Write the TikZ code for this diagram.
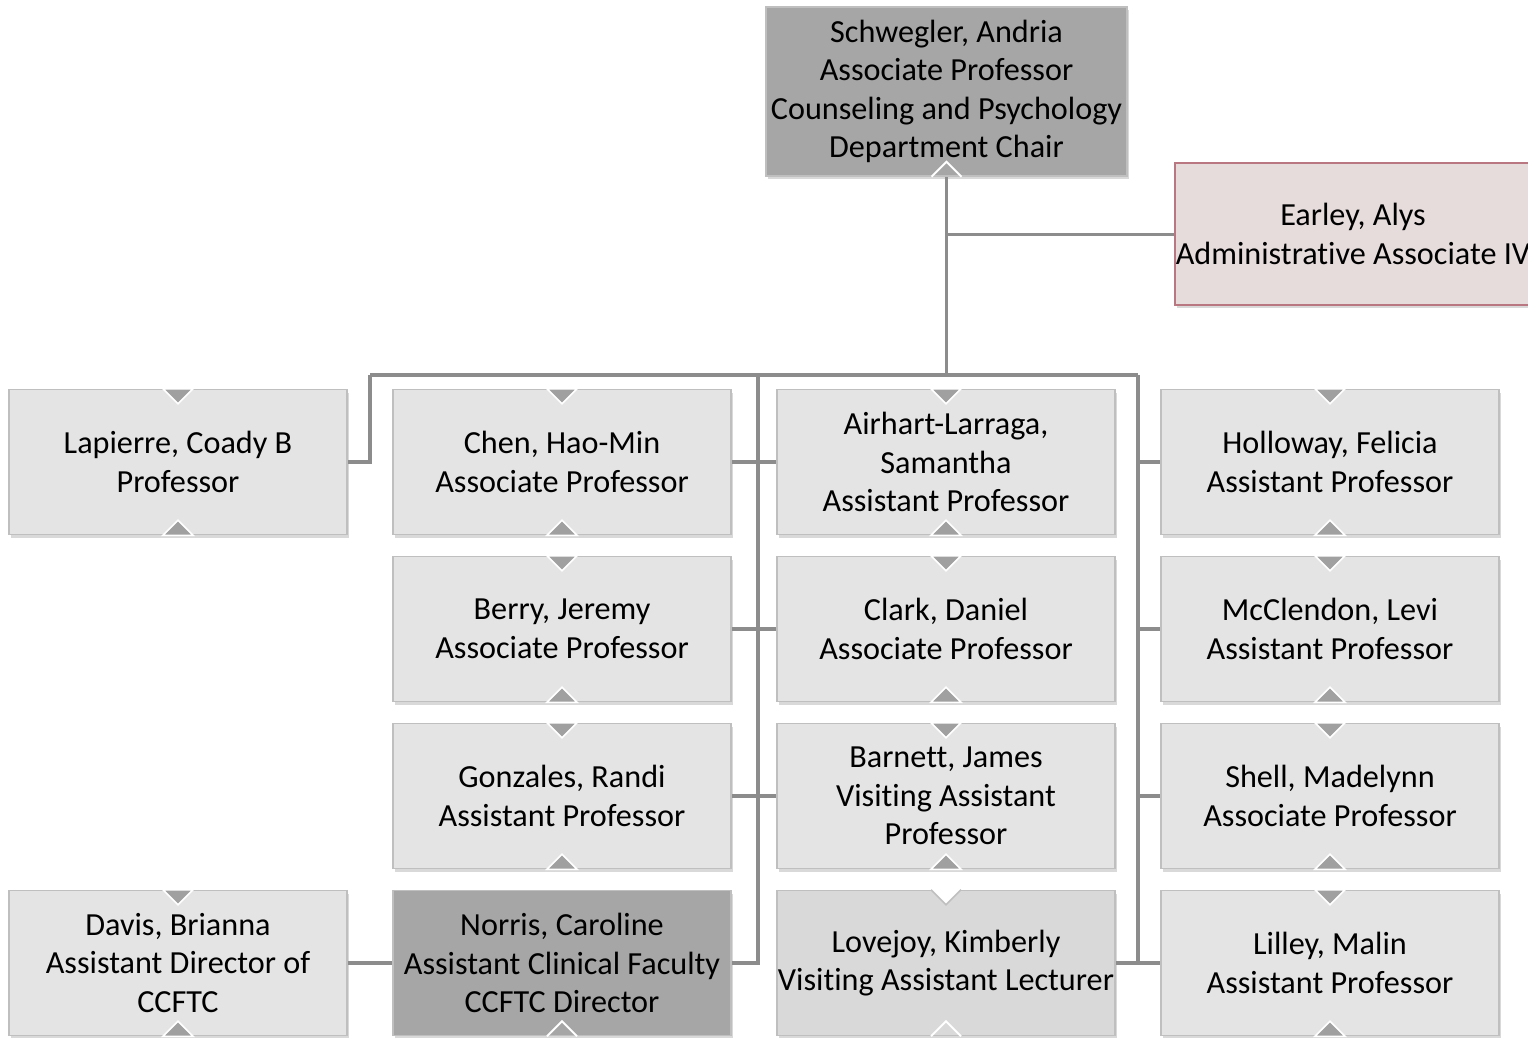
\documentclass[tikz,border=0pt]{standalone}
\usepackage{fontspec}
\setmainfont{Carlito}[Ligatures=NoCommon]
\usetikzlibrary{positioning, shadows}

\definecolor{boxfill}{HTML}{E4E4E4}
\definecolor{boxline}{HTML}{BFBFBF}
\definecolor{darkfill}{HTML}{A6A6A6}
\definecolor{midfill}{HTML}{D9D9D9}
\definecolor{adminfill}{HTML}{E6DCDC}
\definecolor{adminline}{HTML}{B97782}
\definecolor{linkgray}{HTML}{8C8C8C}
\definecolor{notchgray}{HTML}{A0A0A0}

\tikzset{
  person/.style={rectangle, draw=boxline, line width=1.5pt, fill=boxfill,
    minimum width=338pt, minimum height=145pt, inner sep=0pt, align=center,
    text=black, font=\fontsize{32.2}{38.5}\selectfont,
    drop shadow={shadow xshift=2pt, shadow yshift=-3pt, fill=black, opacity=0.15}},
  head/.style={person, fill=darkfill},
  link/.style={draw=linkgray, line width=3.5pt},
  notch/.style={fill=notchgray, draw=white, line width=1.5pt}
}

\begin{document}
\begin{tikzpicture}[x=1pt, y=-1pt, node distance=167pt and 384pt, on grid]
  \clip (0,0) rectangle (1528,1038);

  % chair and assistant
  \node[head, minimum width=361pt, minimum height=169pt](chair) at (946.5,91.5)
    {Schwegler, Andria\\Associate Professor\\Counseling and Psychology\\Department Chair};
  \node[person, fill=adminfill, draw=adminline, minimum width=356pt, minimum height=142pt](earley) at (1353,234)
    {Earley, Alys\\Administrative Associate IV};

  % faculty
  \node[person](chen) at (562,462) {Chen, Hao-Min\\Associate Professor};
  \node[person](lapierre)[left=of chen] {Lapierre, Coady B\\Professor};
  \node[person](airhart)[right=of chen] {Airhart-Larraga,\\Samantha\\Assistant Professor};
  \node[person](holloway)[right=of airhart] {Holloway, Felicia\\Assistant Professor};
  \node[person](berry)[below=of chen] {Berry, Jeremy\\Associate Professor};
  \node[person](clark)[below=of airhart] {Clark, Daniel\\Associate Professor};
  \node[person](mcclendon)[below=of holloway] {McClendon, Levi\\Assistant Professor};
  \node[person](gonzales)[below=of berry] {Gonzales, Randi\\Assistant Professor};
  \node[person](barnett)[below=of clark] {Barnett, James\\Visiting Assistant\\Professor};
  \node[person](shell)[below=of mcclendon] {Shell, Madelynn\\Associate Professor};
  \node[head](norris)[below=of gonzales] {Norris, Caroline\\Assistant Clinical Faculty\\CCFTC Director};
  \node[person](davis)[left=of norris] {Davis, Brianna\\Assistant Director of\\CCFTC};
  \node[person, fill=midfill](lovejoy)[below=of barnett] {Lovejoy, Kimberly\\Visiting Assistant Lecturer};
  \node[person](lilley)[below=of shell] {Lilley, Malin\\Assistant Professor};

  % connectors
  \coordinate (busL) at (370,375);
  \coordinate (busM) at (758,375);
  \coordinate (busR) at (1138,375);
  \draw[link] (chair.south) -- (chair.south |- busM);
  \draw[link, line width=3pt] (chair.south |- earley.west) -- (earley.west);
  \draw[link] (busL) -- (busR);
  \draw[link] (lapierre.east) -| (busL);
  \draw[link] (busM) |- (norris.east);
  \draw[link] (busR) |- (lilley.west);
  \draw[link] (chen.east) -- (airhart.west);
  \draw[link] (berry.east) -- (clark.west);
  \draw[link] (gonzales.east) -- (barnett.west);
  \draw[link] (busR |- holloway.west) -- (holloway.west);
  \draw[link] (busR |- mcclendon.west) -- (mcclendon.west);
  \draw[link] (busR |- shell.west) -- (shell.west);
  \draw[link] (lovejoy.east) -- (lilley.west);
  \draw[link] (davis.east) -- (norris.west);

  % expand marks
  \foreach \n in {lapierre, chen, airhart, holloway, berry, clark, mcclendon,
                  gonzales, barnett, shell, davis, lilley} {
    \filldraw[notch] (\n.north) ++(-15,0) -- ++(30,0) -- ++(-15,15) -- cycle;
    \filldraw[notch] (\n.south) ++(-15,0) -- ++(30,0) -- ++(-15,-15) -- cycle;
  }
  \filldraw[fill=white, draw=boxline, line width=1.5pt] (lovejoy.north) ++(-15,0) -- ++(15,15) -- ++(15,-15);
  \draw[white, line width=2pt] (lovejoy.south) ++(-15,0) -- ++(15,-15) -- ++(15,15);
  \draw[white, line width=2pt] (norris.south) ++(-15,0) -- ++(15,-15) -- ++(15,15);
  \draw[white, line width=2pt] (chair.south) ++(-15,0) -- ++(15,-15) -- ++(15,15);
\end{tikzpicture}
\end{document}
